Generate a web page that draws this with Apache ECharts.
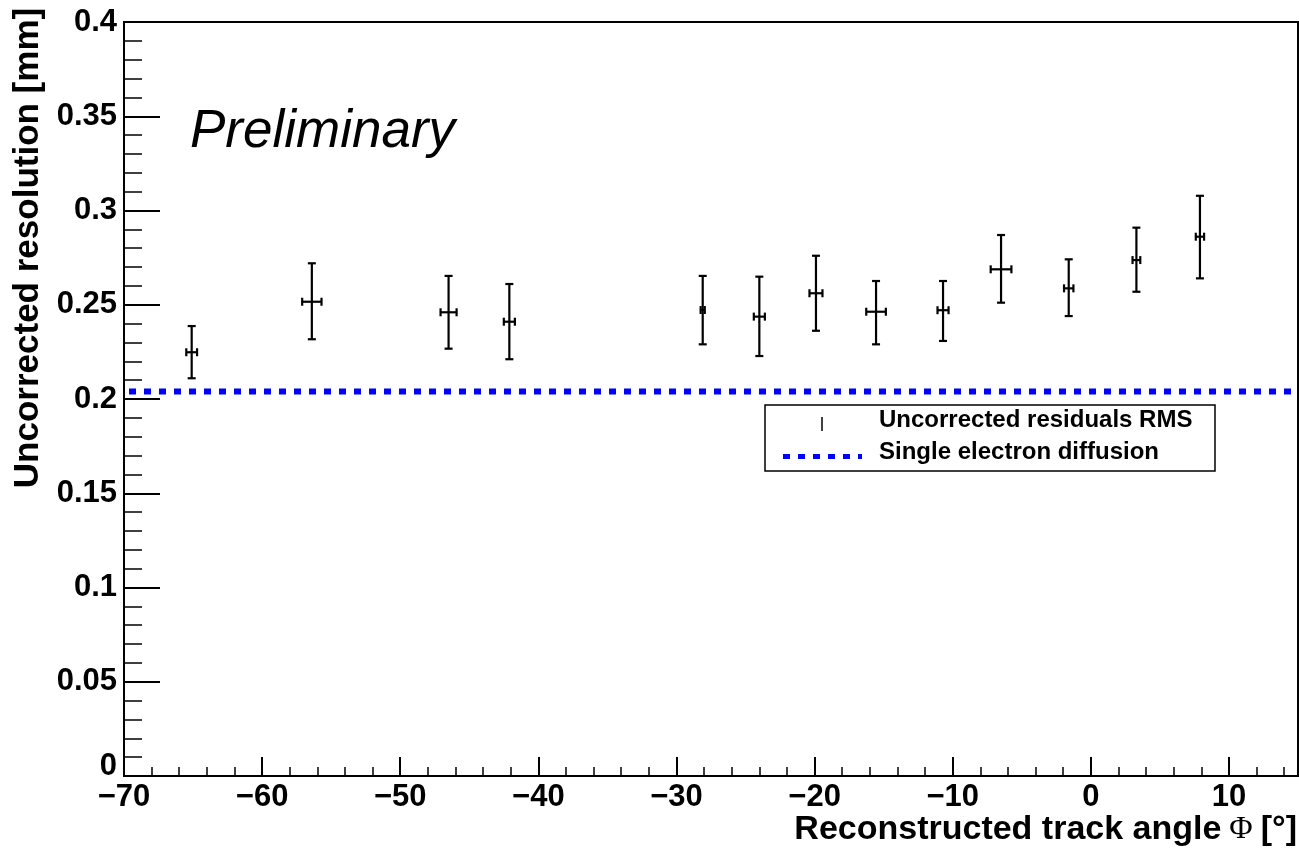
<!DOCTYPE html>
<html>
<head>
<meta charset="utf-8">
<script src="https://cdn.jsdelivr.net/npm/echarts@6/dist/echarts.min.js"></script>
<style>
  html, body { margin: 0; padding: 0; background: #fff; }
  #chart { width: 1299px; height: 852px; }
</style>
</head>
<body>
<div id="chart"></div>
<script>
// measured points: track angle (deg) and RMS of uncorrected residuals (mm)
var angle    = [-65.1, -56.4, -46.5, -42.1, -28.1, -24.0, -19.9, -15.55, -10.7, -6.5, -1.6, 3.3, 7.9];
var angleErr = [0.39, 0.70, 0.58, 0.40, 0.15, 0.40, 0.47, 0.71, 0.40, 0.75, 0.34, 0.28, 0.30];
var rms      = [0.2248, 0.2516, 0.2460, 0.2410, 0.2472, 0.2437, 0.2561, 0.2463, 0.2471, 0.2688, 0.2587, 0.2737, 0.2861];
var rmsLow   = [0.2110, 0.2317, 0.2267, 0.2211, 0.2290, 0.2228, 0.2362, 0.2290, 0.2308, 0.2511, 0.2440, 0.2569, 0.2640];
var rmsHigh  = [0.2387, 0.2720, 0.2653, 0.2610, 0.2653, 0.2649, 0.2760, 0.2626, 0.2626, 0.2870, 0.2741, 0.2909, 0.3078];

// single electron diffusion level
var diffusion = 0.204;
var xRange = [-70, 15];
var yRange = [0, 0.4];

var font = "'Liberation Sans', Arial, Helvetica, sans-serif";

var points = [];
for (var i = 0; i < angle.length; i++) {
  points.push([angle[i], rms[i], rmsLow[i], rmsHigh[i], angleErr[i]]);
}

function renderErrorBar(params, api) {
  var x = api.value(0), y = api.value(1);
  var lo = api.value(2), hi = api.value(3), ex = api.value(4);
  var c = api.coord([x, y]);
  var top = api.coord([x, hi]);
  var bot = api.coord([x, lo]);
  var left = api.coord([x - ex, y]);
  var right = api.coord([x + ex, y]);
  var st = { stroke: '#000', lineWidth: 2.2 };
  var cap = 4;
  return {
    type: 'group',
    children: [
      { type: 'line', shape: { x1: c[0], y1: top[1], x2: c[0], y2: bot[1] }, style: st },
      { type: 'line', shape: { x1: c[0] - cap, y1: top[1], x2: c[0] + cap, y2: top[1] }, style: st },
      { type: 'line', shape: { x1: c[0] - cap, y1: bot[1], x2: c[0] + cap, y2: bot[1] }, style: st },
      { type: 'line', shape: { x1: left[0], y1: c[1], x2: right[0], y2: c[1] }, style: st },
      { type: 'line', shape: { x1: left[0], y1: c[1] - cap, x2: left[0], y2: c[1] + cap }, style: st },
      { type: 'line', shape: { x1: right[0], y1: c[1] - cap, x2: right[0], y2: c[1] + cap }, style: st }
    ]
  };
}

var myChart = echarts.init(document.getElementById('chart'));
var option = {
  animation: false,
  backgroundColor: '#fff',
  grid: {
    left: 124, right: 1, top: 22, bottom: 76,
    show: true, borderColor: '#000', borderWidth: 2, backgroundColor: 'transparent'
  },
  xAxis: {
    type: 'value',
    min: xRange[0], max: xRange[1], interval: 10,
    axisLine: { show: true, onZero: false, lineStyle: { color: '#000', width: 2 } },
    axisTick: { show: true, inside: true, length: 19, lineStyle: { color: '#000', width: 2 } },
    minorTick: { show: true, splitNumber: 5, length: 9, lineStyle: { color: '#000', width: 1.5 } },
    splitLine: { show: false },
    axisLabel: {
      margin: 6, color: '#000', fontFamily: font, fontWeight: 'bold', fontSize: 31,
      showMaxLabel: false,
      formatter: function (v) { return String(v).replace('-', '\u2212'); }
    }
  },
  yAxis: {
    type: 'value',
    min: yRange[0], max: yRange[1], interval: 0.05,
    axisLine: { show: true, onZero: false, lineStyle: { color: '#000', width: 2 } },
    axisTick: { show: true, inside: true, length: 36, lineStyle: { color: '#000', width: 2 } },
    minorTick: { show: true, splitNumber: 5, length: 18, lineStyle: { color: '#000', width: 1.5 } },
    splitLine: { show: false },
    axisLabel: {
      margin: 7, color: '#000', fontFamily: font, fontWeight: 'bold', fontSize: 31,
      formatter: function (v) {
        var s = String(Math.round(v * 100) / 100);
        return v === 0 ? '{z|0}' : s;
      },
      rich: { z: { fontFamily: font, fontWeight: 'bold', fontSize: 31, color: '#000', padding: [0, 0, 20, 0] } }
    }
  },
  series: [
    {
      type: 'line',
      data: [[xRange[0], diffusion], [xRange[1], diffusion]],
      symbol: 'none',
      lineStyle: { color: '#0000ff', width: 6, type: [7, 8], dashOffset: 10, cap: 'butt' },
      z: 2
    },
    {
      type: 'custom',
      renderItem: renderErrorBar,
      data: points,
      encode: { x: 0, y: [1, 2, 3] },
      z: 3
    }
  ],
  graphic: [
    {
      type: 'text', left: 190, top: 106,
      style: { text: 'Preliminary', font: 'italic 53px ' + font, fill: '#000' }
    },
    {
      type: 'text', x: 28, y: 248, rotation: Math.PI / 2,
      style: {
        text: 'Uncorrected resolution [mm]', font: 'bold 35px ' + font, fill: '#000',
        align: 'center', verticalAlign: 'middle'
      }
    },
    {
      type: 'text', x: 1297, y: 830,
      style: {
        text: '{a|Reconstructed track angle}{b| \u03A6 }{a|[\u00B0]}',
        align: 'right', verticalAlign: 'middle',
        rich: {
          a: { fontFamily: font, fontWeight: 'bold', fontSize: 34, fill: '#000' },
          b: { fontFamily: "'Liberation Serif', 'DejaVu Serif', serif", fontSize: 32, fill: '#000' }
        }
      }
    },
    {
      type: 'rect', shape: { x: 765, y: 405, width: 450, height: 66 },
      style: { fill: '#fff', stroke: '#000', lineWidth: 1.5 }, z: 10
    },
    {
      type: 'line', shape: { x1: 822, y1: 417, x2: 822, y2: 431 },
      style: { stroke: '#000', lineWidth: 1.5 }, z: 11
    },
    {
      type: 'line', shape: { x1: 783, y1: 456.5, x2: 862, y2: 456.5 },
      style: { stroke: '#0000ff', lineWidth: 5, lineDash: [7, 8] }, z: 11
    },
    {
      type: 'text', x: 879, y: 420, z: 11,
      style: { text: 'Uncorrected residuals RMS', font: 'bold 24px ' + font, fill: '#000', verticalAlign: 'middle' }
    },
    {
      type: 'text', x: 879, y: 452, z: 11,
      style: { text: 'Single electron diffusion', font: 'bold 24px ' + font, fill: '#000', verticalAlign: 'middle' }
    }
  ]
};
myChart.setOption(option);
</script>
</body>
</html>
